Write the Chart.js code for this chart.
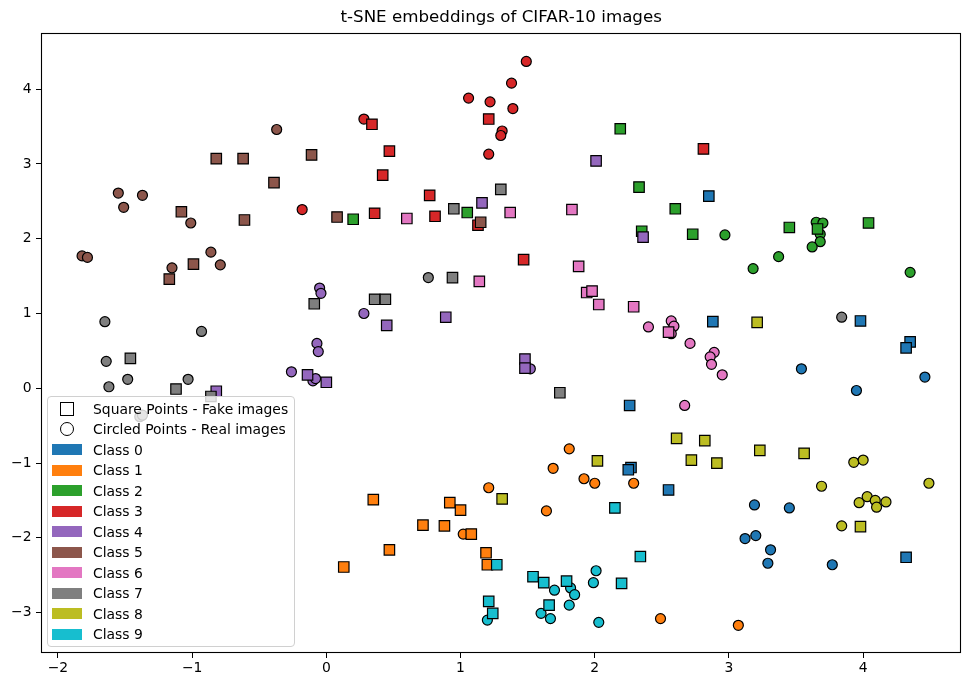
<!DOCTYPE html>
<html>
<head>
<meta charset="utf-8">
<script src="https://cdn.jsdelivr.net/npm/chart.js@4/dist/chart.umd.min.js"></script>
<style>
  body { margin: 0; background: #fff; }
  #wrap { position: relative; width: 970px; height: 677px; }
  #legend {
    position: absolute; left: 47px; top: 396px; width: 248px; height: 251px;
    box-sizing: border-box; border: 1px solid #d0d0d0; border-radius: 4px;
    background: rgba(255,255,255,0.8);
    font-family: 'DejaVu Sans', sans-serif; font-size: 13.9px; color: #000;
    padding-top: 1.5px;
  }
  .row { position: relative; height: 20.5px; line-height: 20.5px; }
  .row .txt { position: absolute; left: 45px; top: 0; white-space: nowrap; }
  .patch { position: absolute; left: 4px; width: 30px; height: 11px; top: 4.75px; }
  .mk { position: absolute; left: 12px; width: 14px; height: 14px; top: 3.25px;
        box-sizing: border-box; border: 1.3px solid #000; background: #fff; }
  .mk.circ { border-radius: 50%; }
</style>
</head>
<body>
<div id="wrap">
  <canvas id="chart" width="970" height="677"></canvas>
  <div id="legend"></div>
</div>
<script>
(() => {
  const classNames = ['Class 0','Class 1','Class 2','Class 3','Class 4','Class 5','Class 6','Class 7','Class 8','Class 9'];
  const palette = ['#1f77b4','#ff7f0e','#2ca02c','#d62728','#9467bd','#8c564b','#e377c2','#7f7f7f','#bcbd22','#17becf'];
  const xTicks = [-2,-1,0,1,2,3,4];
  const yTicks = [-3,-2,-1,0,1,2,3,4];

  // real images (circles) and fake images (squares), one pair per class
  const real0 = [[3.54,0.26],[3.95,-0.03],[4.46,0.15],[3.19,-1.56],[3.45,-1.60],[3.12,-2.01],[3.20,-1.97],[3.31,-2.16],[3.29,-2.34],[3.77,-2.36]];
  const fake0 = [[2.85,2.57],[2.88,0.89],[3.98,0.90],[4.35,0.62],[4.32,0.54],[2.26,-0.23],[2.27,-1.06],[2.25,-1.09],[2.55,-1.36],[4.32,-2.26]];
  const real1 = [[1.21,-1.33],[1.02,-1.95],[1.81,-0.81],[1.69,-1.07],[1.92,-1.21],[2.00,-1.27],[2.29,-1.27],[1.64,-1.64],[2.49,-3.08],[3.07,-3.17]];
  const fake1 = [[0.35,-1.49],[0.92,-1.53],[1.00,-1.63],[0.72,-1.83],[0.88,-1.84],[1.08,-1.95],[0.47,-2.16],[1.19,-2.20],[1.20,-2.36],[0.13,-2.39]];
  const real2 = [[2.97,2.05],[3.65,2.22],[3.70,2.21],[3.68,2.06],[3.68,1.96],[3.62,1.89],[3.18,1.60],[3.37,1.76],[4.35,1.55]];
  const fake2 = [[2.19,3.47],[2.33,2.69],[2.60,2.40],[2.35,2.10],[2.73,2.06],[1.05,2.35],[0.20,2.26],[3.45,2.15],[4.04,2.21],[3.66,2.13]];
  const real3 = [[0.28,3.60],[-0.18,2.39],[1.06,3.88],[1.22,3.83],[1.21,3.13],[1.49,4.37],[1.38,4.08],[1.39,3.74],[1.31,3.44],[1.30,3.38]];
  const fake3 = [[0.34,3.53],[0.47,3.17],[0.42,2.85],[0.77,2.58],[0.36,2.34],[0.81,2.30],[1.13,2.18],[1.21,3.60],[2.81,3.20],[1.47,1.72]];
  const real4 = [[-0.05,1.34],[-0.04,1.27],[0.28,1.00],[-0.07,0.60],[-0.06,0.49],[-0.26,0.22],[-0.10,0.10],[-0.08,0.13],[1.52,0.26]];
  const fake4 = [[2.01,3.04],[2.36,2.02],[1.16,2.48],[0.45,0.84],[0.89,0.95],[-0.14,0.18],[0.00,0.08],[1.48,0.39],[1.48,0.27],[-0.82,-0.04]];
  const real5 = [[-1.55,2.61],[-1.37,2.58],[-1.51,2.42],[-1.01,2.21],[-0.37,3.46],[-1.82,1.77],[-1.78,1.75],[-1.15,1.61],[-0.86,1.82],[-0.79,1.65]];
  const fake5 = [[-0.82,3.07],[-0.62,3.07],[-0.39,2.75],[-1.08,2.36],[-0.61,2.25],[-0.11,3.12],[0.08,2.29],[1.15,2.22],[-1.17,1.46],[-0.99,1.66]];
  const real6 = [[2.40,0.82],[2.57,0.90],[2.59,0.83],[2.57,0.73],[2.71,0.60],[2.89,0.48],[2.86,0.42],[2.87,0.32],[2.95,0.18],[2.67,-0.23]];
  const fake6 = [[0.60,2.27],[1.37,2.35],[1.83,2.39],[1.14,1.43],[1.88,1.63],[1.94,1.28],[1.98,1.30],[2.03,1.12],[2.29,1.09],[2.55,0.75]];
  const real7 = [[0.76,1.48],[3.84,0.95],[-1.65,0.89],[-0.93,0.76],[-1.64,0.36],[-1.48,0.12],[-1.62,0.02],[-1.03,0.12],[-1.39,-0.38],[-1.37,-0.36]];
  const fake7 = [[0.95,2.40],[1.30,2.66],[0.94,1.48],[0.36,1.19],[0.44,1.19],[-0.09,1.13],[1.74,-0.06],[-1.46,0.40],[-1.12,-0.01],[-0.86,-0.11]];
  const real8 = [[3.93,-0.99],[4.00,-0.96],[3.69,-1.31],[4.49,-1.27],[3.97,-1.53],[4.03,-1.45],[4.09,-1.50],[4.10,-1.59],[4.17,-1.52],[3.84,-1.84]];
  const fake8 = [[2.61,-0.67],[2.82,-0.70],[3.21,0.88],[2.02,-0.97],[2.72,-0.96],[2.91,-1.00],[1.31,-1.48],[3.23,-0.83],[3.56,-0.87],[3.98,-1.85]];
  const real9 = [[1.20,-3.10],[1.70,-2.70],[1.82,-2.67],[1.85,-2.76],[1.81,-2.90],[1.60,-3.01],[1.67,-3.08],[2.01,-2.44],[1.99,-2.60],[2.03,-3.13]];
  const fake9 = [[1.21,-2.85],[1.24,-3.01],[1.27,-2.36],[1.54,-2.52],[1.62,-2.60],[1.79,-2.58],[1.66,-2.90],[2.15,-1.60],[2.34,-2.25],[2.20,-2.61]];

  const real = [real0,real1,real2,real3,real4,real5,real6,real7,real8,real9];
  const fake = [fake0,fake1,fake2,fake3,fake4,fake5,fake6,fake7,fake8,fake9];

  const minus = v => v < 0 ? '\u2212' + Math.abs(v) : String(v);

  const datasets = [];
  classNames.forEach((name, i) => {
    datasets.push({
      label: name + ' real', data: real[i].map(([x, y]) => ({x, y})),
      pointStyle: 'circle', pointRadius: 5, backgroundColor: palette[i],
      borderColor: '#000', borderWidth: 1.2
    });
    datasets.push({
      label: name + ' fake', data: fake[i].map(([x, y]) => ({x, y})),
      pointStyle: 'rect', pointRadius: 7.4, backgroundColor: palette[i],
      borderColor: '#000', borderWidth: 1.2
    });
  });
  // chart.js paints the first dataset on top, so flip to keep later ones above
  datasets.reverse();

  const framePlugin = {
    id: 'frame',
    afterDatasetsDraw(chart){
      const {ctx, chartArea: a} = chart;
      ctx.save();
      ctx.strokeStyle = '#000';
      ctx.lineWidth = 1.1;
      ctx.strokeRect(Math.round(a.left) + 0.5, Math.round(a.top) + 0.5,
        Math.round(a.right - a.left) - 1, Math.round(a.bottom - a.top) - 1);
      ctx.restore();
    }
  };

  const tickFont = {family: "'DejaVu Sans'", size: 13.9};

  new Chart(document.getElementById('chart').getContext('2d'), {
    type: 'scatter',
    data: { datasets },
    options: {
      responsive: false,
      animation: false,
      events: [],
      layout: { padding: { left: 0, right: 1, top: 0, bottom: 0 } },
      plugins: {
        legend: { display: false },
        tooltip: { enabled: false },
        title: {
          display: true, fullSize: false, text: 't-SNE embeddings of CIFAR-10 images', color: '#000',
          font: { family: "'DejaVu Sans'", size: 16.7, weight: 'normal' },
          padding: { top: 7.5, bottom: 5.5 }
        }
      },
      scales: {
        x: {
          type: 'linear', min: -2.126, max: 4.732,
          afterBuildTicks: s => { s.ticks = xTicks.map(v => ({value: v})); },
          afterFit: s => { s.height = 24; },
          grid: { display: true, drawOnChartArea: false, drawTicks: true, tickLength: 5, color: '#000', lineWidth: 1 },
          border: { display: false },
          ticks: { color: '#000', font: tickFont, padding: 2, maxRotation: 0, autoSkip: false, callback: v => minus(v) }
        },
        y: {
          type: 'linear', min: -3.54, max: 4.75,
          afterBuildTicks: s => { s.ticks = yTicks.map(v => ({value: v})); },
          afterFit: s => { s.width = 41; },
          grid: { display: true, drawOnChartArea: false, drawTicks: true, tickLength: 5, color: '#000', lineWidth: 1 },
          border: { display: false },
          ticks: { color: '#000', font: tickFont, padding: 4.5, autoSkip: false, callback: v => minus(v) }
        }
      }
    },
    plugins: [framePlugin]
  });

  // legend box drawn over the axes like matplotlib's
  const legend = document.getElementById('legend');
  const addRow = (html) => {
    const row = document.createElement('div');
    row.className = 'row';
    row.innerHTML = html;
    legend.appendChild(row);
  };
  addRow('<div class="mk"></div><span class="txt">Square Points - Fake images</span>');
  addRow('<div class="mk circ"></div><span class="txt">Circled Points - Real images</span>');
  classNames.forEach((name, i) => {
    addRow(`<div class="patch" style="background:${palette[i]}"></div><span class="txt">${name}</span>`);
  });
})();
</script>
</body>
</html>
